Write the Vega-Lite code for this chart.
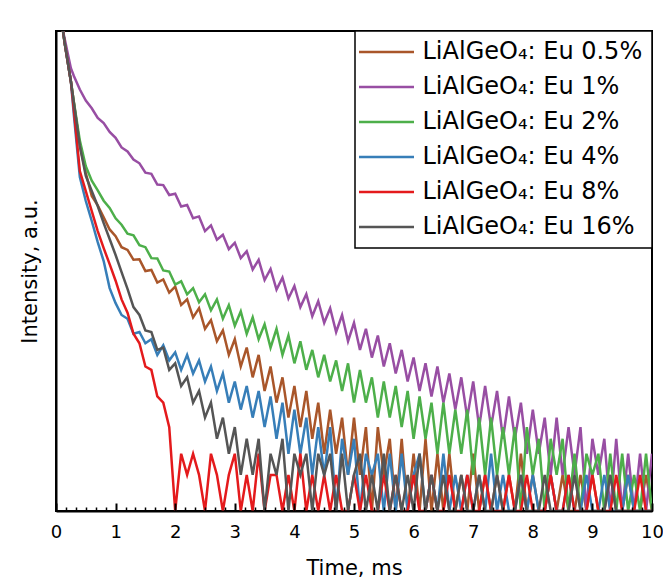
{
"$schema": "https://vega.github.io/schema/vega-lite/v6.json",
"width": 596, "height": 480,
"autosize": {"type": "none"},
"padding": {"left": 56, "top": 31, "right": 11, "bottom": 69},
"background": "white",
"config": {
  "view": {"stroke": "black", "strokeWidth": 2},
  "font": "DejaVu Sans"
},
"data": {"values": [
{"s":"0.5%","t":0.1,"v":11500},{"s":"0.5%","t":0.15,"v":7700},{"s":"0.5%","t":0.2,"v":5400},{"s":"0.5%","t":0.25,"v":3800},{"s":"0.5%","t":0.3,"v":2510},{"s":"0.5%","t":0.4,"v":1110},{"s":"0.5%","t":0.5,"v":656},{"s":"0.5%","t":0.6,"v":422},{"s":"0.5%","t":0.7,"v":352},{"s":"0.5%","t":0.8,"v":280},{"s":"0.5%","t":0.9,"v":222},{"s":"0.5%","t":1.0,"v":195},{"s":"0.5%","t":1.1,"v":158},{"s":"0.5%","t":1.2,"v":150},{"s":"0.5%","t":1.3,"v":124},{"s":"0.5%","t":1.4,"v":125},{"s":"0.5%","t":1.5,"v":100},{"s":"0.5%","t":1.6,"v":102},{"s":"0.5%","t":1.7,"v":80},{"s":"0.5%","t":1.8,"v":85},{"s":"0.5%","t":1.9,"v":66},{"s":"0.5%","t":2.0,"v":74},{"s":"0.5%","t":2.1,"v":52},{"s":"0.5%","t":2.2,"v":58},{"s":"0.5%","t":2.3,"v":41},{"s":"0.5%","t":2.4,"v":49},{"s":"0.5%","t":2.5,"v":33},{"s":"0.5%","t":2.6,"v":39},{"s":"0.5%","t":2.7,"v":26},{"s":"0.5%","t":2.8,"v":32},{"s":"0.5%","t":2.9,"v":20},{"s":"0.5%","t":3.0,"v":27},{"s":"0.5%","t":3.1,"v":16},{"s":"0.5%","t":3.2,"v":23},{"s":"0.5%","t":3.3,"v":13},{"s":"0.5%","t":3.4,"v":20},{"s":"0.5%","t":3.5,"v":10},{"s":"0.5%","t":3.6,"v":16},{"s":"0.5%","t":3.7,"v":8},{"s":"0.5%","t":3.8,"v":13},{"s":"0.5%","t":3.9,"v":6},{"s":"0.5%","t":4.0,"v":11},{"s":"0.5%","t":4.1,"v":5},{"s":"0.5%","t":4.2,"v":10},{"s":"0.5%","t":4.3,"v":4},{"s":"0.5%","t":4.4,"v":8},{"s":"0.5%","t":4.5,"v":3},{"s":"0.5%","t":4.6,"v":7},{"s":"0.5%","t":4.7,"v":3},{"s":"0.5%","t":4.8,"v":6},{"s":"0.5%","t":4.9,"v":2},{"s":"0.5%","t":5.0,"v":6},{"s":"0.5%","t":5.1,"v":2},{"s":"0.5%","t":5.2,"v":5},{"s":"0.5%","t":5.3,"v":1},{"s":"0.5%","t":5.4,"v":5},{"s":"0.5%","t":5.5,"v":2},{"s":"0.5%","t":5.6,"v":4},{"s":"0.5%","t":5.7,"v":1},{"s":"0.5%","t":5.8,"v":4},{"s":"0.5%","t":5.9,"v":1},{"s":"0.5%","t":6.0,"v":3},{"s":"0.5%","t":6.1,"v":1},{"s":"0.5%","t":6.2,"v":4},{"s":"0.5%","t":6.3,"v":1},{"s":"0.5%","t":6.4,"v":3},{"s":"0.5%","t":6.5,"v":1},{"s":"0.5%","t":6.6,"v":3},{"s":"0.5%","t":6.7,"v":1},{"s":"0.5%","t":6.8,"v":2},{"s":"0.5%","t":6.9,"v":1},{"s":"0.5%","t":7.0,"v":3},{"s":"0.5%","t":7.1,"v":1},{"s":"0.5%","t":7.2,"v":2},{"s":"0.5%","t":7.3,"v":1},{"s":"0.5%","t":7.4,"v":2},{"s":"0.5%","t":7.5,"v":1},{"s":"0.5%","t":7.6,"v":2},{"s":"0.5%","t":7.7,"v":1},{"s":"0.5%","t":7.8,"v":3},{"s":"0.5%","t":7.9,"v":1},{"s":"0.5%","t":8.0,"v":2},{"s":"0.5%","t":8.1,"v":1},{"s":"0.5%","t":8.2,"v":1},{"s":"0.5%","t":8.3,"v":2},{"s":"0.5%","t":8.4,"v":1},{"s":"0.5%","t":8.5,"v":2},{"s":"0.5%","t":8.6,"v":1},{"s":"0.5%","t":8.7,"v":1},{"s":"0.5%","t":8.8,"v":2},{"s":"0.5%","t":8.9,"v":1},{"s":"0.5%","t":9.0,"v":2},{"s":"0.5%","t":9.1,"v":1},{"s":"0.5%","t":9.2,"v":1},{"s":"0.5%","t":9.3,"v":2},{"s":"0.5%","t":9.4,"v":1},{"s":"0.5%","t":9.5,"v":1},{"s":"0.5%","t":9.6,"v":2},{"s":"0.5%","t":9.7,"v":1},{"s":"0.5%","t":9.8,"v":1},{"s":"0.5%","t":9.9,"v":2},{"s":"0.5%","t":10.0,"v":1},
{"s":"1%","t":0.1,"v":11000},{"s":"1%","t":0.15,"v":8400},{"s":"1%","t":0.2,"v":6400},{"s":"1%","t":0.25,"v":4900},{"s":"1%","t":0.3,"v":4220},{"s":"1%","t":0.4,"v":3250},{"s":"1%","t":0.5,"v":2630},{"s":"1%","t":0.6,"v":2270},{"s":"1%","t":0.7,"v":1890},{"s":"1%","t":0.8,"v":1710},{"s":"1%","t":0.9,"v":1440},{"s":"1%","t":1.0,"v":1290},{"s":"1%","t":1.1,"v":1070},{"s":"1%","t":1.2,"v":990},{"s":"1%","t":1.3,"v":850},{"s":"1%","t":1.4,"v":790},{"s":"1%","t":1.5,"v":660},{"s":"1%","t":1.6,"v":645},{"s":"1%","t":1.7,"v":525},{"s":"1%","t":1.8,"v":520},{"s":"1%","t":1.9,"v":430},{"s":"1%","t":2.0,"v":440},{"s":"1%","t":2.1,"v":345},{"s":"1%","t":2.2,"v":355},{"s":"1%","t":2.3,"v":275},{"s":"1%","t":2.4,"v":285},{"s":"1%","t":2.5,"v":215},{"s":"1%","t":2.6,"v":240},{"s":"1%","t":2.7,"v":182},{"s":"1%","t":2.8,"v":200},{"s":"1%","t":2.9,"v":152},{"s":"1%","t":3.0,"v":172},{"s":"1%","t":3.1,"v":128},{"s":"1%","t":3.2,"v":146},{"s":"1%","t":3.3,"v":103},{"s":"1%","t":3.4,"v":124},{"s":"1%","t":3.5,"v":84},{"s":"1%","t":3.6,"v":104},{"s":"1%","t":3.7,"v":70},{"s":"1%","t":3.8,"v":88},{"s":"1%","t":3.9,"v":59},{"s":"1%","t":4.0,"v":75},{"s":"1%","t":4.1,"v":50},{"s":"1%","t":4.2,"v":64},{"s":"1%","t":4.3,"v":42},{"s":"1%","t":4.4,"v":56},{"s":"1%","t":4.5,"v":37},{"s":"1%","t":4.6,"v":49},{"s":"1%","t":4.7,"v":31},{"s":"1%","t":4.8,"v":43},{"s":"1%","t":4.9,"v":26},{"s":"1%","t":5.0,"v":37},{"s":"1%","t":5.1,"v":22},{"s":"1%","t":5.2,"v":33},{"s":"1%","t":5.3,"v":19},{"s":"1%","t":5.4,"v":29},{"s":"1%","t":5.5,"v":16},{"s":"1%","t":5.6,"v":25},{"s":"1%","t":5.7,"v":14},{"s":"1%","t":5.8,"v":22},{"s":"1%","t":5.9,"v":12},{"s":"1%","t":6.0,"v":19},{"s":"1%","t":6.1,"v":10},{"s":"1%","t":6.2,"v":17},{"s":"1%","t":6.3,"v":9},{"s":"1%","t":6.4,"v":16},{"s":"1%","t":6.5,"v":8},{"s":"1%","t":6.6,"v":14},{"s":"1%","t":6.7,"v":7},{"s":"1%","t":6.8,"v":13},{"s":"1%","t":6.9,"v":6},{"s":"1%","t":7.0,"v":12},{"s":"1%","t":7.1,"v":5},{"s":"1%","t":7.2,"v":11},{"s":"1%","t":7.3,"v":5},{"s":"1%","t":7.4,"v":10},{"s":"1%","t":7.5,"v":4},{"s":"1%","t":7.6,"v":9},{"s":"1%","t":7.7,"v":4},{"s":"1%","t":7.8,"v":8},{"s":"1%","t":7.9,"v":3},{"s":"1%","t":8.0,"v":7},{"s":"1%","t":8.1,"v":3},{"s":"1%","t":8.2,"v":6},{"s":"1%","t":8.3,"v":2},{"s":"1%","t":8.4,"v":6},{"s":"1%","t":8.5,"v":2},{"s":"1%","t":8.6,"v":5},{"s":"1%","t":8.7,"v":2},{"s":"1%","t":8.8,"v":5},{"s":"1%","t":8.9,"v":1},{"s":"1%","t":9.0,"v":4},{"s":"1%","t":9.1,"v":2},{"s":"1%","t":9.2,"v":4},{"s":"1%","t":9.3,"v":1},{"s":"1%","t":9.4,"v":4},{"s":"1%","t":9.5,"v":1},{"s":"1%","t":9.6,"v":3},{"s":"1%","t":9.7,"v":1},{"s":"1%","t":9.8,"v":3},{"s":"1%","t":9.9,"v":1},{"s":"1%","t":10.0,"v":3},
{"s":"2%","t":0.1,"v":11500},{"s":"2%","t":0.15,"v":7700},{"s":"2%","t":0.2,"v":5400},{"s":"2%","t":0.25,"v":3800},{"s":"2%","t":0.3,"v":2560},{"s":"2%","t":0.4,"v":1220},{"s":"2%","t":0.5,"v":745},{"s":"2%","t":0.6,"v":565},{"s":"2%","t":0.7,"v":470},{"s":"2%","t":0.8,"v":385},{"s":"2%","t":0.9,"v":335},{"s":"2%","t":1.0,"v":275},{"s":"2%","t":1.1,"v":243},{"s":"2%","t":1.2,"v":205},{"s":"2%","t":1.3,"v":198},{"s":"2%","t":1.4,"v":164},{"s":"2%","t":1.5,"v":158},{"s":"2%","t":1.6,"v":128},{"s":"2%","t":1.7,"v":127},{"s":"2%","t":1.8,"v":101},{"s":"2%","t":1.9,"v":99},{"s":"2%","t":2.0,"v":77},{"s":"2%","t":2.1,"v":82},{"s":"2%","t":2.2,"v":64},{"s":"2%","t":2.3,"v":72},{"s":"2%","t":2.4,"v":55},{"s":"2%","t":2.5,"v":64},{"s":"2%","t":2.6,"v":47},{"s":"2%","t":2.7,"v":58},{"s":"2%","t":2.8,"v":40},{"s":"2%","t":2.9,"v":52},{"s":"2%","t":3.0,"v":35},{"s":"2%","t":3.1,"v":46},{"s":"2%","t":3.2,"v":30},{"s":"2%","t":3.3,"v":41},{"s":"2%","t":3.4,"v":27},{"s":"2%","t":3.5,"v":36},{"s":"2%","t":3.6,"v":23},{"s":"2%","t":3.7,"v":33},{"s":"2%","t":3.8,"v":20},{"s":"2%","t":3.9,"v":29},{"s":"2%","t":4.0,"v":17},{"s":"2%","t":4.1,"v":26},{"s":"2%","t":4.2,"v":15},{"s":"2%","t":4.3,"v":22},{"s":"2%","t":4.4,"v":13},{"s":"2%","t":4.5,"v":20},{"s":"2%","t":4.6,"v":12},{"s":"2%","t":4.7,"v":18},{"s":"2%","t":4.8,"v":10},{"s":"2%","t":4.9,"v":17},{"s":"2%","t":5.0,"v":8},{"s":"2%","t":5.1,"v":15},{"s":"2%","t":5.2,"v":8},{"s":"2%","t":5.3,"v":13},{"s":"2%","t":5.4,"v":6},{"s":"2%","t":5.5,"v":12},{"s":"2%","t":5.6,"v":6},{"s":"2%","t":5.7,"v":11},{"s":"2%","t":5.8,"v":5},{"s":"2%","t":5.9,"v":10},{"s":"2%","t":6.0,"v":4},{"s":"2%","t":6.1,"v":9},{"s":"2%","t":6.2,"v":4},{"s":"2%","t":6.3,"v":8},{"s":"2%","t":6.4,"v":3},{"s":"2%","t":6.5,"v":8},{"s":"2%","t":6.6,"v":3},{"s":"2%","t":6.7,"v":7},{"s":"2%","t":6.8,"v":3},{"s":"2%","t":6.9,"v":7},{"s":"2%","t":7.0,"v":2},{"s":"2%","t":7.1,"v":6},{"s":"2%","t":7.2,"v":2},{"s":"2%","t":7.3,"v":6},{"s":"2%","t":7.4,"v":2},{"s":"2%","t":7.5,"v":5},{"s":"2%","t":7.6,"v":2},{"s":"2%","t":7.7,"v":5},{"s":"2%","t":7.8,"v":1},{"s":"2%","t":7.9,"v":5},{"s":"2%","t":8.0,"v":2},{"s":"2%","t":8.1,"v":4},{"s":"2%","t":8.2,"v":1},{"s":"2%","t":8.3,"v":4},{"s":"2%","t":8.4,"v":2},{"s":"2%","t":8.5,"v":4},{"s":"2%","t":8.6,"v":1},{"s":"2%","t":8.7,"v":3},{"s":"2%","t":8.8,"v":1},{"s":"2%","t":8.9,"v":3},{"s":"2%","t":9.0,"v":2},{"s":"2%","t":9.1,"v":3},{"s":"2%","t":9.2,"v":1},{"s":"2%","t":9.3,"v":3},{"s":"2%","t":9.4,"v":1},{"s":"2%","t":9.5,"v":3},{"s":"2%","t":9.6,"v":1},{"s":"2%","t":9.7,"v":2},{"s":"2%","t":9.8,"v":1},{"s":"2%","t":9.9,"v":3},{"s":"2%","t":10.0,"v":1},
{"s":"4%","t":0.1,"v":11500},{"s":"4%","t":0.15,"v":7700},{"s":"4%","t":0.2,"v":5400},{"s":"4%","t":0.25,"v":3800},{"s":"4%","t":0.3,"v":1990},{"s":"4%","t":0.4,"v":607},{"s":"4%","t":0.5,"v":383},{"s":"4%","t":0.6,"v":261},{"s":"4%","t":0.7,"v":174},{"s":"4%","t":0.8,"v":121},{"s":"4%","t":0.9,"v":72},{"s":"4%","t":1.0,"v":54},{"s":"4%","t":1.1,"v":43},{"s":"4%","t":1.2,"v":40},{"s":"4%","t":1.3,"v":30},{"s":"4%","t":1.4,"v":31},{"s":"4%","t":1.5,"v":25},{"s":"4%","t":1.6,"v":27},{"s":"4%","t":1.7,"v":20},{"s":"4%","t":1.8,"v":24},{"s":"4%","t":1.9,"v":18},{"s":"4%","t":2.0,"v":21},{"s":"4%","t":2.1,"v":15},{"s":"4%","t":2.2,"v":20},{"s":"4%","t":2.3,"v":14},{"s":"4%","t":2.4,"v":18},{"s":"4%","t":2.5,"v":12},{"s":"4%","t":2.6,"v":16},{"s":"4%","t":2.7,"v":10},{"s":"4%","t":2.8,"v":14},{"s":"4%","t":2.9,"v":8},{"s":"4%","t":3.0,"v":12},{"s":"4%","t":3.1,"v":7},{"s":"4%","t":3.2,"v":11},{"s":"4%","t":3.3,"v":6},{"s":"4%","t":3.4,"v":10},{"s":"4%","t":3.5,"v":5},{"s":"4%","t":3.6,"v":9},{"s":"4%","t":3.7,"v":4},{"s":"4%","t":3.8,"v":8},{"s":"4%","t":3.9,"v":3},{"s":"4%","t":4.0,"v":7},{"s":"4%","t":4.1,"v":3},{"s":"4%","t":4.2,"v":6},{"s":"4%","t":4.3,"v":2},{"s":"4%","t":4.4,"v":5},{"s":"4%","t":4.5,"v":2},{"s":"4%","t":4.6,"v":5},{"s":"4%","t":4.7,"v":1},{"s":"4%","t":4.8,"v":4},{"s":"4%","t":4.9,"v":2},{"s":"4%","t":5.0,"v":4},{"s":"4%","t":5.1,"v":1},{"s":"4%","t":5.2,"v":3},{"s":"4%","t":5.3,"v":2},{"s":"4%","t":5.4,"v":3},{"s":"4%","t":5.5,"v":1},{"s":"4%","t":5.6,"v":3},{"s":"4%","t":5.7,"v":1},{"s":"4%","t":5.8,"v":3},{"s":"4%","t":5.9,"v":1},{"s":"4%","t":6.0,"v":2},{"s":"4%","t":6.1,"v":3},{"s":"4%","t":6.2,"v":1},{"s":"4%","t":6.3,"v":2},{"s":"4%","t":6.4,"v":1},{"s":"4%","t":6.5,"v":3},{"s":"4%","t":6.6,"v":1},{"s":"4%","t":6.7,"v":2},{"s":"4%","t":6.8,"v":1},{"s":"4%","t":6.9,"v":2},{"s":"4%","t":7.0,"v":1},{"s":"4%","t":7.1,"v":2},{"s":"4%","t":7.2,"v":1},{"s":"4%","t":7.3,"v":3},{"s":"4%","t":7.4,"v":1},{"s":"4%","t":7.5,"v":2},{"s":"4%","t":7.6,"v":1},{"s":"4%","t":7.7,"v":1},{"s":"4%","t":7.8,"v":2},{"s":"4%","t":7.9,"v":1},{"s":"4%","t":8.0,"v":2},{"s":"4%","t":8.1,"v":1},{"s":"4%","t":8.2,"v":1},{"s":"4%","t":8.3,"v":2},{"s":"4%","t":8.4,"v":1},{"s":"4%","t":8.5,"v":1},{"s":"4%","t":8.6,"v":2},{"s":"4%","t":8.7,"v":1},{"s":"4%","t":8.8,"v":1},{"s":"4%","t":8.9,"v":2},{"s":"4%","t":9.0,"v":1},{"s":"4%","t":9.1,"v":1},{"s":"4%","t":9.2,"v":2},{"s":"4%","t":9.3,"v":1},{"s":"4%","t":9.4,"v":1},{"s":"4%","t":9.5,"v":1},{"s":"4%","t":9.6,"v":2},{"s":"4%","t":9.7,"v":1},{"s":"4%","t":9.8,"v":1},{"s":"4%","t":9.9,"v":1},{"s":"4%","t":10.0,"v":1},
{"s":"8%","t":0.1,"v":11500},{"s":"8%","t":0.15,"v":7700},{"s":"8%","t":0.2,"v":5400},{"s":"8%","t":0.25,"v":3800},{"s":"8%","t":0.3,"v":2200},{"s":"8%","t":0.4,"v":681},{"s":"8%","t":0.5,"v":464},{"s":"8%","t":0.6,"v":316},{"s":"8%","t":0.7,"v":215},{"s":"8%","t":0.8,"v":155},{"s":"8%","t":0.9,"v":114},{"s":"8%","t":1.0,"v":83},{"s":"8%","t":1.1,"v":58},{"s":"8%","t":1.2,"v":45},{"s":"8%","t":1.3,"v":30},{"s":"8%","t":1.4,"v":25},{"s":"8%","t":1.5,"v":16},{"s":"8%","t":1.6,"v":15},{"s":"8%","t":1.7,"v":9},{"s":"8%","t":1.8,"v":8},{"s":"8%","t":1.9,"v":5},{"s":"8%","t":2.0,"v":1},{"s":"8%","t":2.1,"v":3},{"s":"8%","t":2.2,"v":2},{"s":"8%","t":2.3,"v":3},{"s":"8%","t":2.4,"v":2},{"s":"8%","t":2.5,"v":1},{"s":"8%","t":2.6,"v":3},{"s":"8%","t":2.7,"v":2},{"s":"8%","t":2.8,"v":1},{"s":"8%","t":2.9,"v":2},{"s":"8%","t":3.0,"v":3},{"s":"8%","t":3.1,"v":1},{"s":"8%","t":3.2,"v":2},{"s":"8%","t":3.3,"v":1},{"s":"8%","t":3.4,"v":3},{"s":"8%","t":3.5,"v":1},{"s":"8%","t":3.6,"v":2},{"s":"8%","t":3.7,"v":2},{"s":"8%","t":3.8,"v":1},{"s":"8%","t":3.9,"v":2},{"s":"8%","t":4.0,"v":1},{"s":"8%","t":4.1,"v":3},{"s":"8%","t":4.2,"v":1},{"s":"8%","t":4.3,"v":2},{"s":"8%","t":4.4,"v":1},{"s":"8%","t":4.5,"v":2},{"s":"8%","t":4.6,"v":1},{"s":"8%","t":4.7,"v":2},{"s":"8%","t":4.8,"v":1},{"s":"8%","t":4.9,"v":1},{"s":"8%","t":5.0,"v":2},{"s":"8%","t":5.1,"v":1},{"s":"8%","t":5.2,"v":2},{"s":"8%","t":5.3,"v":1},{"s":"8%","t":5.4,"v":1},{"s":"8%","t":5.5,"v":2},{"s":"8%","t":5.6,"v":1},{"s":"8%","t":5.7,"v":2},{"s":"8%","t":5.8,"v":1},{"s":"8%","t":5.9,"v":1},{"s":"8%","t":6.0,"v":2},{"s":"8%","t":6.1,"v":1},{"s":"8%","t":6.2,"v":1},{"s":"8%","t":6.3,"v":2},{"s":"8%","t":6.4,"v":1},{"s":"8%","t":6.5,"v":1},{"s":"8%","t":6.6,"v":2},{"s":"8%","t":6.7,"v":1},{"s":"8%","t":6.8,"v":1},{"s":"8%","t":6.9,"v":2},{"s":"8%","t":7.0,"v":1},{"s":"8%","t":7.1,"v":1},{"s":"8%","t":7.2,"v":2},{"s":"8%","t":7.3,"v":1},{"s":"8%","t":7.4,"v":1},{"s":"8%","t":7.5,"v":1},{"s":"8%","t":7.6,"v":2},{"s":"8%","t":7.7,"v":1},{"s":"8%","t":7.8,"v":1},{"s":"8%","t":7.9,"v":2},{"s":"8%","t":8.0,"v":1},{"s":"8%","t":8.1,"v":1},{"s":"8%","t":8.2,"v":1},{"s":"8%","t":8.3,"v":2},{"s":"8%","t":8.4,"v":1},{"s":"8%","t":8.5,"v":1},{"s":"8%","t":8.6,"v":2},{"s":"8%","t":8.7,"v":1},{"s":"8%","t":8.8,"v":1},{"s":"8%","t":8.9,"v":1},{"s":"8%","t":9.0,"v":2},{"s":"8%","t":9.1,"v":1},{"s":"8%","t":9.2,"v":1},{"s":"8%","t":9.3,"v":1},{"s":"8%","t":9.4,"v":2},{"s":"8%","t":9.5,"v":1},{"s":"8%","t":9.6,"v":1},{"s":"8%","t":9.7,"v":1},{"s":"8%","t":9.8,"v":2},{"s":"8%","t":9.9,"v":1},{"s":"8%","t":10.0,"v":1},
{"s":"16%","t":0.1,"v":11500},{"s":"16%","t":0.15,"v":7700},{"s":"16%","t":0.2,"v":5400},{"s":"16%","t":0.25,"v":3800},{"s":"16%","t":0.3,"v":2510},{"s":"16%","t":0.4,"v":1100},{"s":"16%","t":0.5,"v":619},{"s":"16%","t":0.6,"v":464},{"s":"16%","t":0.7,"v":348},{"s":"16%","t":0.8,"v":251},{"s":"16%","t":0.9,"v":185},{"s":"16%","t":1.0,"v":136},{"s":"16%","t":1.1,"v":98},{"s":"16%","t":1.2,"v":71},{"s":"16%","t":1.3,"v":50},{"s":"16%","t":1.4,"v":43},{"s":"16%","t":1.5,"v":32},{"s":"16%","t":1.6,"v":31},{"s":"16%","t":1.7,"v":22},{"s":"16%","t":1.8,"v":23},{"s":"16%","t":1.9,"v":15},{"s":"16%","t":2.0,"v":17},{"s":"16%","t":2.1,"v":11},{"s":"16%","t":2.2,"v":13},{"s":"16%","t":2.3,"v":8},{"s":"16%","t":2.4,"v":10},{"s":"16%","t":2.5,"v":6},{"s":"16%","t":2.6,"v":8},{"s":"16%","t":2.7,"v":4},{"s":"16%","t":2.8,"v":6},{"s":"16%","t":2.9,"v":3},{"s":"16%","t":3.0,"v":5},{"s":"16%","t":3.1,"v":2},{"s":"16%","t":3.2,"v":4},{"s":"16%","t":3.3,"v":2},{"s":"16%","t":3.4,"v":4},{"s":"16%","t":3.5,"v":1},{"s":"16%","t":3.6,"v":3},{"s":"16%","t":3.7,"v":2},{"s":"16%","t":3.8,"v":4},{"s":"16%","t":3.9,"v":1},{"s":"16%","t":4.0,"v":3},{"s":"16%","t":4.1,"v":2},{"s":"16%","t":4.2,"v":3},{"s":"16%","t":4.3,"v":1},{"s":"16%","t":4.4,"v":3},{"s":"16%","t":4.5,"v":2},{"s":"16%","t":4.6,"v":3},{"s":"16%","t":4.7,"v":1},{"s":"16%","t":4.8,"v":3},{"s":"16%","t":4.9,"v":1},{"s":"16%","t":5.0,"v":2},{"s":"16%","t":5.1,"v":3},{"s":"16%","t":5.2,"v":1},{"s":"16%","t":5.3,"v":2},{"s":"16%","t":5.4,"v":1},{"s":"16%","t":5.5,"v":3},{"s":"16%","t":5.6,"v":1},{"s":"16%","t":5.7,"v":2},{"s":"16%","t":5.8,"v":1},{"s":"16%","t":5.9,"v":2},{"s":"16%","t":6.0,"v":1},{"s":"16%","t":6.1,"v":3},{"s":"16%","t":6.2,"v":1},{"s":"16%","t":6.3,"v":2},{"s":"16%","t":6.4,"v":1},{"s":"16%","t":6.5,"v":2},{"s":"16%","t":6.6,"v":1},{"s":"16%","t":6.7,"v":1},{"s":"16%","t":6.8,"v":2},{"s":"16%","t":6.9,"v":1},{"s":"16%","t":7.0,"v":1},{"s":"16%","t":7.1,"v":2},{"s":"16%","t":7.2,"v":1},{"s":"16%","t":7.3,"v":1},{"s":"16%","t":7.4,"v":2},{"s":"16%","t":7.5,"v":1},{"s":"16%","t":7.6,"v":1},{"s":"16%","t":7.7,"v":1},{"s":"16%","t":7.8,"v":2},{"s":"16%","t":7.9,"v":1},{"s":"16%","t":8.0,"v":1},{"s":"16%","t":8.1,"v":1},{"s":"16%","t":8.2,"v":2},{"s":"16%","t":8.3,"v":1},{"s":"16%","t":8.4,"v":1},{"s":"16%","t":8.5,"v":1},{"s":"16%","t":8.6,"v":1},{"s":"16%","t":8.7,"v":2},{"s":"16%","t":8.8,"v":1},{"s":"16%","t":8.9,"v":1},{"s":"16%","t":9.0,"v":1},{"s":"16%","t":9.1,"v":1},{"s":"16%","t":9.2,"v":1},{"s":"16%","t":9.3,"v":2},{"s":"16%","t":9.4,"v":1},{"s":"16%","t":9.5,"v":1},{"s":"16%","t":9.6,"v":1},{"s":"16%","t":9.7,"v":1},{"s":"16%","t":9.8,"v":1},{"s":"16%","t":9.9,"v":1},{"s":"16%","t":10.0,"v":1}
]},
"mark": {"type": "line", "strokeWidth": 2.5, "clip": true, "strokeJoin": "miter"},
"encoding": {
  "x": {"field": "t", "type": "quantitative",
    "scale": {"domain": [0, 10], "nice": false, "zero": false},
    "axis": {"values": [0,0.1667,0.3333,0.5,0.6667,0.8333,1,1.1667,1.3333,1.5,1.6667,1.8333,2,2.1667,2.3333,2.5,2.6667,2.8333,3,3.1667,3.3333,3.5,3.6667,3.8333,4,4.1667,4.3333,4.5,4.6667,4.8333,5,5.1667,5.3333,5.5,5.6667,5.8333,6,6.1667,6.3333,6.5,6.6667,6.8333,7,7.1667,7.3333,7.5,7.6667,7.8333,8,8.1667,8.3333,8.5,8.6667,8.8333,9,9.1667,9.3333,9.5,9.6667,9.8333,10],
      "labelExpr": "abs(datum.value - round(datum.value)) < 0.01 ? format(datum.value, 'd') : ''",
      "grid": false,
      "domain": true, "domainColor": "black", "domainWidth": 2,
      "ticks": true,
      "tickSize": {"condition": {"test": "abs(datum.value - round(datum.value)) < 0.01", "value": -8}, "value": -4},
      "tickWidth": {"condition": {"test": "abs(datum.value - round(datum.value)) < 0.01", "value": 2}, "value": 1.5},
      "tickColor": "black",
      "labelFont": "DejaVu Sans", "labelFontSize": 18, "labelColor": "black", "labelPadding": 20,
      "labelFlush": false, "labelOverlap": false, "labelBound": false,
      "title": "Time, ms", "titleFont": "DejaVu Sans", "titleFontSize": 21, "titleFontWeight": "normal",
      "titleColor": "black", "titlePadding": 12, "zindex": 1}},
  "y": {"field": "v", "type": "quantitative",
    "scale": {"type": "log", "domain": [1, 10000], "nice": false},
    "axis": {"labels": false, "ticks": false, "grid": false, "domain": true, "domainColor": "black", "domainWidth": 2,
      "title": "Intensity, a.u.", "titleFont": "DejaVu Sans", "titleFontSize": 21, "titleFontWeight": "normal",
      "titleColor": "black", "titlePadding": 16, "zindex": 1}},
  "color": {"field": "s", "type": "nominal", "sort": ["0.5%","1%","2%","4%","8%","16%"],
    "scale": {"domain": ["0.5%","1%","2%","4%","8%","16%"],
              "range": ["#A9562A","#984EA3","#4DAF4A","#377EB8","#E41A1C","#555555"]},
    "legend": {"title": null, "orient": "top-right", "offset": 0,
      "strokeColor": "black", "fillColor": "white", "padding": 9,
      "symbolType": "M-5.5,0H5.5", "symbolSize": 100, "symbolStrokeWidth": 2.5, "symbolOffset": 10.5,
      "labelOffset": 24, "labelFont": "DejaVu Sans", "labelFontSize": 24, "labelColor": "black",
      "labelLimit": 400, "rowPadding": 11,
      "labelExpr": "'LiAlGeO₄: Eu ' + datum.label",
      "encode": {"legend": {"update": {"strokeWidth": {"value": 1.5}}}}}}
}
}
